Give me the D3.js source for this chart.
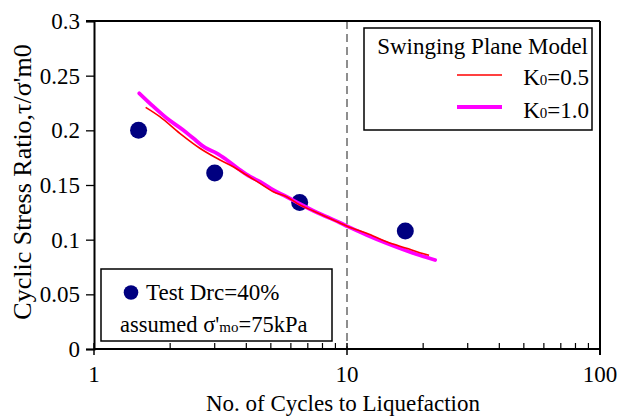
<!DOCTYPE html>
<html><head><meta charset="utf-8">
<script src="https://cdn.jsdelivr.net/npm/d3@7"></script>
<style>body{margin:0;background:#fff}svg{display:block}text{font-family:"Liberation Serif","Times New Roman",serif;fill:#000}</style>
</head><body>
<svg id="c" width="618" height="419"></svg>
<script>
const xTicks = [1, 10, 100];
const yTicks = [0, 0.05, 0.1, 0.15, 0.2, 0.25, 0.3];
const yTickLabels = ["0", "0.05", "0.1", "0.15", "0.2", "0.25", "0.3"];
const testN = [1.5, 3.0, 6.5, 17.0];
const testCSR = [0.200, 0.161, 0.134, 0.108];
const k05N = [1.60, 1.82, 2.19, 2.62, 3.06, 3.55, 4.01, 4.53, 5.11, 5.77, 6.52, 7.36, 8.83, 10.1, 11.96, 14.35, 17.2, 19.4, 21.1];
const k05CSR = [0.221, 0.2125, 0.197, 0.1836, 0.1744, 0.1667, 0.1591, 0.1515, 0.1439, 0.1393, 0.1317, 0.1262, 0.118, 0.1119, 0.1058, 0.0981, 0.0921, 0.0881, 0.0857];
const k10N = [1.51, 1.72, 1.94, 2.25, 2.47, 2.75, 3.06, 3.35, 3.78, 4.14, 4.53, 5.11, 5.77, 6.52, 7.36, 8.31, 9.38, 10.1, 11.96, 14.35, 17.2, 19.4, 22.3];
const k10CSR = [0.2339, 0.2216, 0.211, 0.2003, 0.1927, 0.1841, 0.179, 0.1729, 0.1637, 0.1576, 0.153, 0.1454, 0.1393, 0.1326, 0.1265, 0.121, 0.1155, 0.1119, 0.1043, 0.0967, 0.0899, 0.0857, 0.0814];

const svg = d3.select("#c");
const L = 94, R = 600, T = 21, B = 349;
const x = d3.scaleLog().domain([1, 100]).range([L, R]);
const y = d3.scaleLinear().domain([0, 0.3]).range([B, T]);
const FS = 23;

// dashed line at N=10
svg.append("line").attr("x1", x(10)).attr("x2", x(10)).attr("y1", T).attr("y2", B)
  .attr("stroke", "#444").attr("stroke-width", 1.2).attr("stroke-dasharray", "8,5");

// frame top/right
svg.append("line").attr("x1", L-8).attr("x2", R).attr("y1", T).attr("y2", T).attr("stroke", "#000").attr("stroke-width", 2);
svg.append("line").attr("x1", R).attr("x2", R).attr("y1", T).attr("y2", B+6).attr("stroke", "#000").attr("stroke-width", 2);

// y axis
const yAxis = d3.axisLeft(y).tickValues(yTicks).tickSize(8).tickFormat((d, i) => yTickLabels[i]).tickPadding(6);
const gy = svg.append("g").attr("transform", `translate(${L},0)`).call(yAxis);
gy.attr("font-family", null);
gy.select(".domain").attr("stroke", "#000").attr("stroke-width", 2);
gy.selectAll(".tick line").attr("stroke", "#000").attr("stroke-width", 1.3);
gy.selectAll("text").style("font-size", FS + "px").style("font-family", "Liberation Serif").attr("fill", "#000");

// x axis: minor ticks inside, major crossing
const minor = [];
for (let dec = 1; dec < 100; dec *= 10) for (let k = 2; k <= 9; k++) minor.push(dec * k);
const gx = svg.append("g").attr("transform", `translate(0,${B})`);
gx.append("line").attr("x1", L).attr("x2", R).attr("stroke", "#000").attr("stroke-width", 2);
gx.selectAll(".mn").data(minor).join("line").attr("x1", d => x(d)).attr("x2", d => x(d))
  .attr("y1", -6).attr("y2", 0).attr("stroke", "#000").attr("stroke-width", 1.2);
gx.selectAll(".mj").data(xTicks).join("line").attr("x1", d => x(d)).attr("x2", d => x(d))
  .attr("y1", -6).attr("y2", 6).attr("stroke", "#000").attr("stroke-width", 1.5);
gx.selectAll(".lb").data(xTicks).join("text").attr("x", d => x(d)).attr("y", 33)
  .attr("text-anchor", "middle").style("font-size", FS + "px").text(d => d);

// axis titles
svg.append("text").attr("x", 343).attr("y", 411).attr("text-anchor", "middle").style("font-size", FS + "px")
  .text("No. of Cycles to Liquefaction");
svg.append("text").attr("transform", "translate(31,182) rotate(-90)").attr("text-anchor", "middle")
  .style("font-size", "26px").text("Cyclic Stress Ratio,τ/σ'm0");

// test points
svg.selectAll(".pt").data(testN).join("circle").attr("cx", d => x(d)).attr("cy", (d, i) => y(testCSR[i]))
  .attr("r", 8.5).attr("fill", "#000080");

const line = d3.line().x(d => x(d[0])).y(d => y(d[1])).curve(d3.curveMonotoneX);
svg.append("path").attr("d", line(k10N.map((n, i) => [n, k10CSR[i]]))).attr("fill", "none")
  .attr("stroke", "#ff00ff").attr("stroke-width", 3.8).attr("stroke-linecap", "round");
svg.append("path").attr("d", line(k05N.map((n, i) => [n, k05CSR[i]]))).attr("fill", "none")
  .attr("stroke", "#ff0000").attr("stroke-width", 1.6);

// right legend
const lg = svg.append("g");
lg.append("rect").attr("x", 364).attr("y", 28).attr("width", 228).attr("height", 102)
  .attr("fill", "#fff").attr("stroke", "#000").attr("stroke-width", 1.5);
lg.append("text").attr("x", 588).attr("y", 54).attr("text-anchor", "end").style("font-size", FS + "px").text("Swinging Plane Model");
lg.append("line").attr("x1", 457).attr("x2", 502).attr("y1", 75).attr("y2", 75).attr("stroke", "#ff0000").attr("stroke-width", 1.6);
lg.append("line").attr("x1", 457).attr("x2", 502).attr("y1", 107).attr("y2", 107).attr("stroke", "#ff00ff").attr("stroke-width", 3.8);
function kLabel(yy, val) {
  const t = lg.append("text").attr("x", 589).attr("y", yy).attr("text-anchor", "end").style("font-size", FS + "px");
  t.append("tspan").text("K");
  t.append("tspan").style("font-size", "15px").text("0");
  t.append("tspan").text("=" + val);
}
kLabel(85, "0.5");
kLabel(118, "1.0");

// left legend
const lg2 = svg.append("g");
lg2.append("rect").attr("x", 101).attr("y", 269).attr("width", 231).attr("height", 72)
  .attr("fill", "#fff").attr("stroke", "#000").attr("stroke-width", 1.5);
lg2.append("circle").attr("cx", 131).attr("cy", 292.5).attr("r", 7.3).attr("fill", "#000080");
lg2.append("text").attr("x", 146).attr("y", 300).style("font-size", FS + "px").text("Test Drc=40%");
const t2 = lg2.append("text").attr("x", 120).attr("y", 332).style("font-size", "22.5px");
t2.append("tspan").text("assumed ");
t2.append("tspan").text("σ'");
t2.append("tspan").style("font-size", "15px").text("mo");
t2.append("tspan").text("=75kPa");
</script>
</body></html>
